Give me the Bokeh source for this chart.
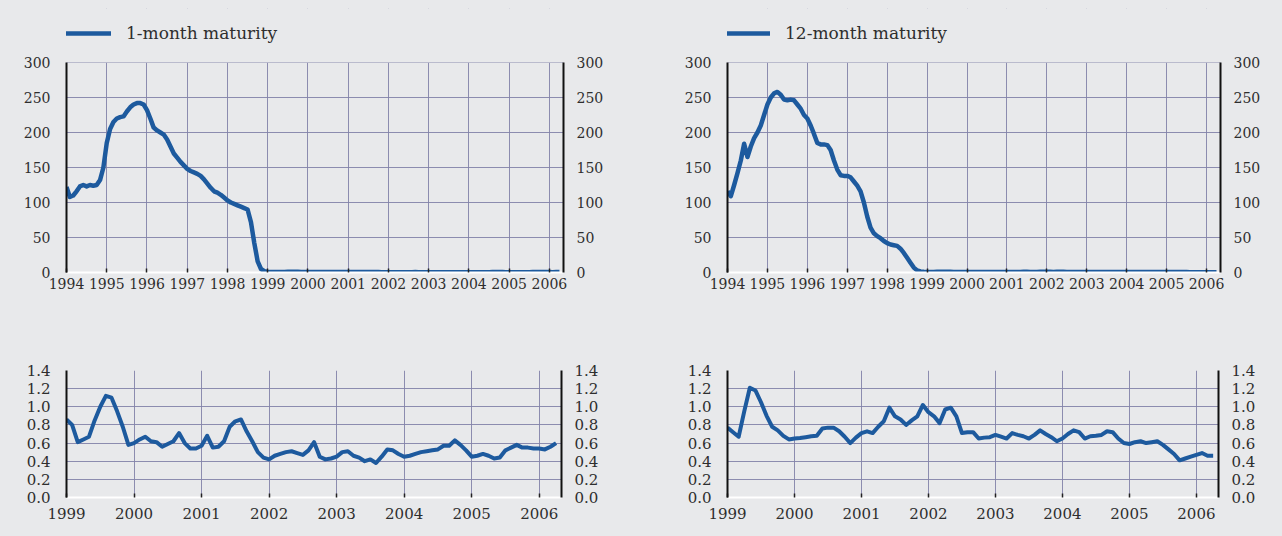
from bokeh.plotting import figure
from bokeh.models import (Range1d, LinearAxis, FixedTicker, PrintfTickFormatter, Legend,
                          LegendItem, BoxAnnotation)
from bokeh.layouts import column, row
from bokeh.embed import file_html
from bokeh.resources import INLINE

# ---------------- data (monthly observations) ----------------
# 1-month maturity, Jan 1994 - Dec 1998 (basis points)
m1_early = [122, 108, 110, 116, 123, 125, 123, 125, 124, 125, 132, 150,
            185, 205, 215, 220, 222, 223, 230, 236, 240, 242, 242, 240,
            232, 220, 207, 203, 200, 197, 190, 180, 170, 164, 158, 153,
            148, 145, 143, 141, 138, 133, 127, 121, 116, 114, 111, 107,
            103, 100, 98, 96, 94, 92, 90, 72, 42, 16, 5, 2]
# 1-month maturity, Jan 1999 - Apr 2006
m1_late = [0.86, 0.80, 0.61, 0.64, 0.67, 0.85, 1.00, 1.12, 1.10, 0.95, 0.78, 0.58,
           0.60, 0.64, 0.67, 0.62, 0.61, 0.56, 0.59, 0.62, 0.71, 0.60, 0.54, 0.54,
           0.57, 0.68, 0.55, 0.56, 0.62, 0.78, 0.84, 0.86, 0.73, 0.62, 0.50, 0.44,
           0.42, 0.46, 0.48, 0.50, 0.51, 0.49, 0.47, 0.52, 0.61, 0.45, 0.42, 0.43,
           0.45, 0.50, 0.51, 0.46, 0.44, 0.40, 0.42, 0.38, 0.45, 0.53, 0.52, 0.48,
           0.45, 0.46, 0.48, 0.50, 0.51, 0.52, 0.53, 0.57, 0.57, 0.63, 0.58, 0.52,
           0.45, 0.46, 0.48, 0.46, 0.43, 0.44, 0.52, 0.55, 0.58, 0.55, 0.55, 0.54,
           0.54, 0.53, 0.56, 0.60]
# 12-month maturity, Jan 1994 - Dec 1998
m12_early = [116, 109, 125, 142, 160, 184, 165, 180, 192, 200, 210, 225,
             240, 250, 256, 258, 254, 247, 246, 247, 246, 240, 234, 225,
             220, 210, 198, 185, 183, 183, 182, 175, 160, 147, 139, 138,
             138, 136, 130, 124, 116, 100, 80, 64, 56, 52, 49, 45,
             42, 40, 39, 38, 34, 28, 21, 14, 7, 3, 1.5, 1]
# 12-month maturity, Jan 1999 - Apr 2006
m12_late = [0.77, 0.72, 0.67, 0.95, 1.21, 1.18, 1.05, 0.90, 0.78, 0.74, 0.68, 0.64,
            0.65, 0.655, 0.665, 0.675, 0.68, 0.76, 0.77, 0.77, 0.73, 0.67, 0.60, 0.66,
            0.71, 0.73, 0.71, 0.78, 0.84, 0.99, 0.895, 0.86, 0.80, 0.85, 0.895, 1.02,
            0.94, 0.895, 0.82, 0.97, 0.99, 0.895, 0.71, 0.72, 0.72, 0.65, 0.66, 0.665,
            0.69, 0.67, 0.65, 0.71, 0.69, 0.675, 0.65, 0.69, 0.74, 0.70, 0.665, 0.62,
            0.65, 0.70, 0.74, 0.72, 0.65, 0.675, 0.68, 0.69, 0.73, 0.72, 0.65, 0.60,
            0.59, 0.61, 0.62, 0.60, 0.61, 0.62, 0.58, 0.53, 0.48, 0.41, 0.43, 0.45,
            0.47, 0.49, 0.46, 0.46]

labels = ["1-month maturity", "12-month maturity"]
years_top = list(range(1994, 2007))
years_bottom = list(range(1999, 2007))
yticks_top = [0, 50, 100, 150, 200, 250, 300]
yticks_bottom = [0.0, 0.2, 0.4, 0.6, 0.8, 1.0, 1.2, 1.4]

def month_axis(start_year, n):
    return [start_year + i / 12.0 for i in range(n)]

# ---------------- styling ----------------
BG = "#e8e9eb"
LINE = "#1d5a9e"
GRID = "#8282a8"
TXT = "#2e2e2e"
FONT = "DejaVu Serif"

# top panels: the frame is extended upward so the legend can sit inside it
TOP_FRAME_H = 264     # pixels of frame (8 .. 272)
TOP_DATA_H = 210      # pixels used by the 0..300 scale (62 .. 272)


def panel(width, height, bl, br, bt, bb, x0, x1, yticks, xticks, yfmt, xs, ys,
          lw, label=None, x_standoff=5, fs="14px", yext=None, leg_x=0, glyph_w=46):
    ytop = yticks[-1]
    yend = ytop if yext is None else yext
    p = figure(width=width, height=height, output_backend="svg", toolbar_location=None,
               x_range=Range1d(x0, x1), y_range=Range1d(0, yend),
               min_border_left=bl, min_border_right=br, min_border_top=bt,
               min_border_bottom=bb)
    p.background_fill_color = BG
    p.border_fill_color = BG
    p.outline_line_color = None
    p.styles = {"background-color": BG}
    r = p.line(xs, ys, line_color=LINE, line_width=lw, line_join="round")

    p.xaxis.ticker = FixedTicker(ticks=xticks)
    p.xaxis.formatter = PrintfTickFormatter(format="%d")
    p.xaxis.axis_line_color = "white"
    p.xaxis.axis_line_width = 2
    p.xaxis.major_tick_in = 4
    p.xaxis.major_tick_out = 0
    p.xaxis.major_tick_line_color = "#222222"
    p.xaxis.major_tick_line_width = 1.5
    p.xaxis.minor_tick_line_color = None
    p.xaxis.major_label_standoff = x_standoff

    p.yaxis.ticker = FixedTicker(ticks=yticks)
    p.yaxis.formatter = PrintfTickFormatter(format=yfmt)
    p.yaxis.bounds = (0, ytop)
    p.yaxis.axis_line_color = "#111111"
    p.yaxis.axis_line_width = 2
    p.yaxis.major_tick_line_color = None
    p.yaxis.minor_tick_line_color = None
    p.yaxis.major_label_standoff = 10

    ra = LinearAxis(ticker=FixedTicker(ticks=yticks),
                    formatter=PrintfTickFormatter(format=yfmt), bounds=(0, ytop))
    ra.axis_line_color = "#111111"
    ra.axis_line_width = 2
    ra.major_tick_line_color = None
    ra.minor_tick_line_color = None
    ra.major_label_standoff = 7
    p.add_layout(ra, "right")

    for ax in p.xaxis + p.yaxis + [ra]:
        ax.major_label_text_font = FONT
        ax.major_label_text_font_size = fs
        ax.major_label_text_color = TXT

    p.xgrid.ticker = FixedTicker(ticks=xticks)
    p.ygrid.ticker = FixedTicker(ticks=yticks)
    for g in (p.xgrid, p.ygrid):
        g.grid_line_color = GRID
        g.grid_line_width = 1
        g.grid_line_alpha = 0.9

    if yext is not None:
        # hide the part of the frame above the top tick (legend area)
        p.add_layout(BoxAnnotation(bottom=ytop, fill_color=BG, fill_alpha=1.0,
                                   line_alpha=0, level="underlay"))

    if label is not None:
        leg = Legend(items=[LegendItem(label=label, renderers=[r])],
                     location=(leg_x, 229), padding=0, margin=0,
                     background_fill_alpha=0, border_line_alpha=0,
                     glyph_width=glyph_w, glyph_height=20, label_height=20,
                     label_standoff=15,
                     label_text_font=FONT, label_text_font_size="17px",
                     label_text_color=TXT)
        p.add_layout(leg)
    return p

t_top = month_axis(1994, len(m1_early) + len(m1_late))
t_bot = month_axis(1999, len(m1_late))
y_ext = yticks_top[-1] * TOP_FRAME_H / TOP_DATA_H

p1 = panel(648, 340, 66, 85, 8, 68, 1994, 2006.35, yticks_top, years_top, "%d",
           t_top, m1_early + m1_late, 4.5, label=labels[0], yext=y_ext, leg_x=-1,
           glyph_w=46)
p2 = panel(634, 340, 79, 62, 8, 68, 1994, 2006.35, yticks_top, years_top, "%d",
           month_axis(1994, len(m12_early) + len(m12_late)), m12_early + m12_late, 4.5,
           label=labels[1], yext=y_ext, leg_x=-5, glyph_w=48)
p3 = panel(648, 196, 66, 87, 30, 39, 1999, 2006.33, yticks_bottom, years_bottom, "%.1f",
           t_bot, m1_late, 4, x_standoff=10, fs="15px")
p4 = panel(634, 196, 79, 64, 30, 39, 1999, 2006.33, yticks_bottom, years_bottom, "%.1f",
           month_axis(1999, len(m12_late)), m12_late, 4, x_standoff=10, fs="15px")

layout = column(row(p1, p2), row(p3, p4))
layout.styles = {"background-color": BG}
open("out.html", "w").write(file_html(layout, INLINE))
